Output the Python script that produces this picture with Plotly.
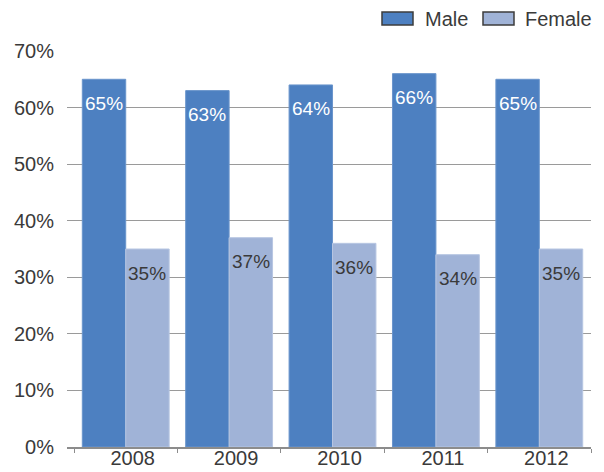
import plotly.graph_objects as go

years = ["2008", "2009", "2010", "2011", "2012"]
male = [65, 63, 64, 66, 65]
female = [35, 37, 36, 34, 35]
y_ticks = [0, 10, 20, 30, 40, 50, 60, 70]

MALE_COLOR = "#4D80C1"
FEMALE_COLOR = "#A0B3D7"
TEXT_COLOR = "#3A3A3A"
FONT = "Liberation Sans, Arial, sans-serif"

# plot area in pixels (used to place labels beside each bar)
L, R, T, B = 67, 13, 51, 25
W, H = 604, 472
plot_w = W - L - R
plot_h = H - T - B
X_RANGE = [-0.568, len(years) - 0.5]
BARGAP = 0.16
cat_w = plot_w / (X_RANGE[1] - X_RANGE[0])
bar_w = cat_w * (1 - BARGAP) / 2

fig = go.Figure()
fig.add_trace(go.Bar(name="Male", x=years, y=male, marker_color=MALE_COLOR,
                     marker_line=dict(color="#6A95CC", width=1), showlegend=False))
fig.add_trace(go.Bar(name="Female", x=years, y=female, marker_color=FEMALE_COLOR,
                     marker_line=dict(color="#B7C6E2", width=1), showlegend=False))

# value labels inside the top of each bar (x given as category index)
for i, (m, f) in enumerate(zip(male, female)):
    fig.add_annotation(x=i, y=m, xref="x", yref="y", text=f"{m}%", showarrow=False,
                       xshift=-bar_w / 2, yshift=-24, yanchor="middle",
                       font=dict(family=FONT, size=19, color="white"))
    fig.add_annotation(x=i, y=f, xref="x", yref="y", text=f"{f}%", showarrow=False,
                       xshift=bar_w / 2, yshift=-24, yanchor="middle",
                       font=dict(family=FONT, size=19, color=TEXT_COLOR))

# legend drawn as wide swatches with labels
def px_x(px):
    return (px - L) / plot_w

def px_y(py):
    return (H - B - py) / plot_h

legend_items = [("Male", MALE_COLOR, 382, 423), ("Female", FEMALE_COLOR, 483, 523)]
for name, color, sx, tx in legend_items:
    fig.add_shape(type="rect", xref="paper", yref="paper",
                  x0=px_x(sx), x1=px_x(sx + 31), y0=px_y(25), y1=px_y(12),
                  fillcolor=color, line=dict(color="#3C3C3C", width=1.5))
    fig.add_annotation(xref="paper", yref="paper", x=px_x(tx), y=px_y(18.5),
                       xanchor="left", yanchor="middle", text=name, showarrow=False,
                       font=dict(family=FONT, size=20, color=TEXT_COLOR))

fig.update_layout(
    width=W, height=H,
    margin=dict(l=L, r=R, t=T, b=B, autoexpand=False),
    paper_bgcolor="white", plot_bgcolor="white",
    barmode="group", bargap=BARGAP, bargroupgap=0,
    font=dict(family=FONT, size=20, color=TEXT_COLOR),
    xaxis=dict(
        type="category", range=X_RANGE, automargin=False,
        tickson="boundaries", ticks="outside", ticklen=4,
        tickcolor="#8C8C8C", showline=True, linecolor="#8C8C8C", linewidth=1.5,
        showgrid=False, ticklabelshift=7, ticklabelstandoff=-8,
        tickfont=dict(family=FONT, size=20, color=TEXT_COLOR),
    ),
    yaxis=dict(
        range=[0, 70], tickvals=y_ticks, ticktext=[f"{v}%" for v in y_ticks],
        automargin=False,
        showgrid=True, gridcolor="#9A9A9A", gridwidth=1, zeroline=False,
        showline=False, ticks="", ticklabelstandoff=12,
        tickfont=dict(family=FONT, size=20, color=TEXT_COLOR),
    ),
)

fig.write_html("out.html")
